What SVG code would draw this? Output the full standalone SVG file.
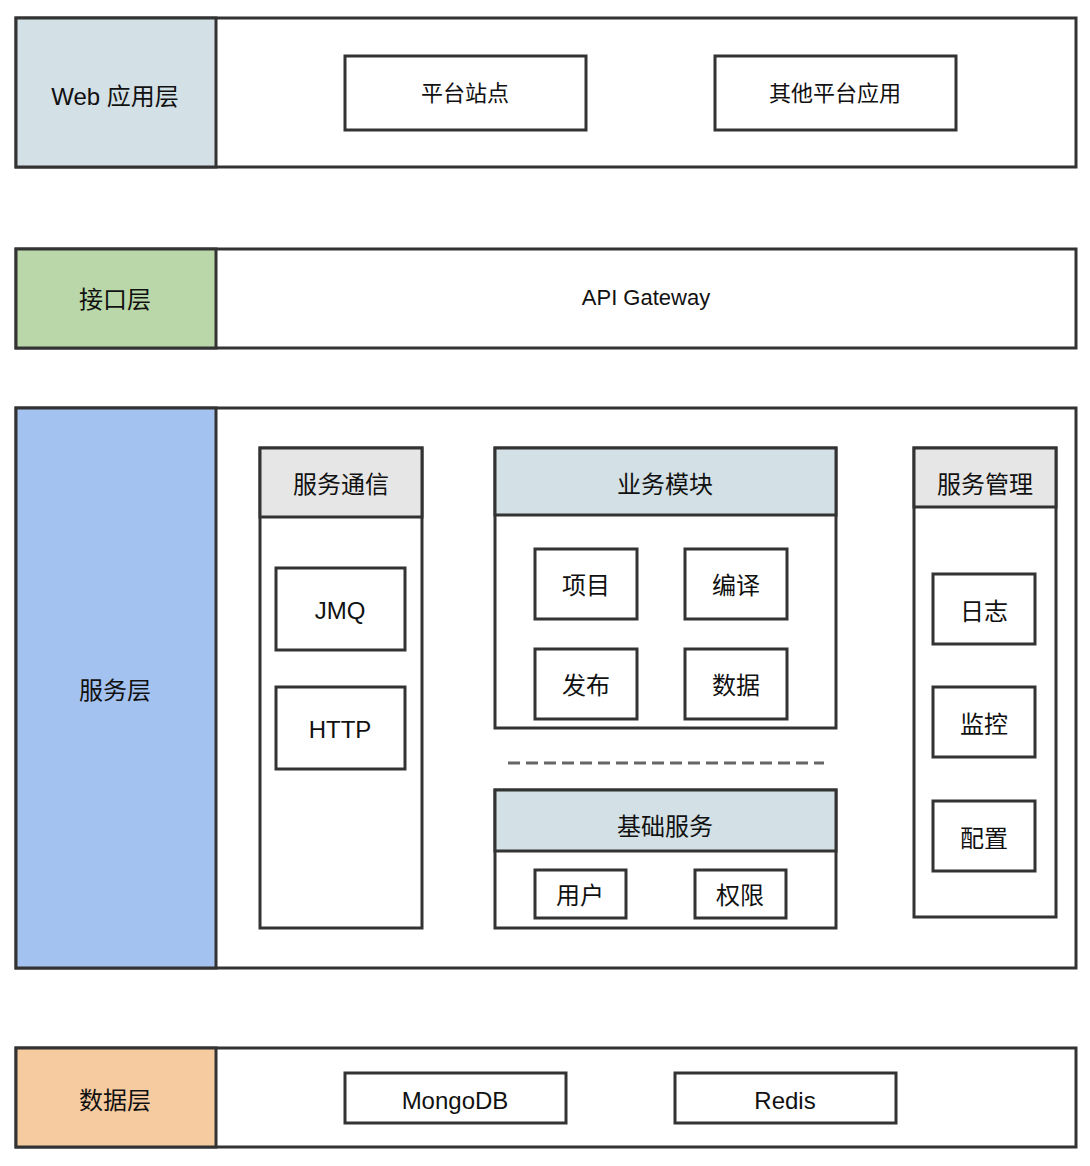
<svg xmlns="http://www.w3.org/2000/svg" width="1090" height="1166" viewBox="0 0 1090 1166">
<style>
rect{stroke:#333;stroke-width:3;fill:#fff}
text{font-family:"Liberation Sans","Noto Sans CJK SC",sans-serif;font-size:24px;fill:#111;text-anchor:middle;dominant-baseline:central}
.s{font-size:22px}
.bg{fill:#d3e0e5}.gr{fill:#e6e6e6}
</style>
<rect width="1090" height="1166" style="fill:#fff;stroke:none"/>
<g id="web">
<rect x="16" y="18" width="1060" height="149"/>
<rect x="16" y="18" width="200" height="149" class="bg"/>
<text x="115" y="96">Web 应用层</text>
<rect x="345" y="56" width="241" height="74"/><text class="s" x="465" y="93">平台站点</text>
<rect x="715" y="56" width="241" height="74"/><text class="s" x="835" y="93">其他平台应用</text>
</g>
<g id="api">
<rect x="16" y="249" width="1060" height="99"/>
<rect x="16" y="249" width="200" height="99" style="fill:#b9d7a8"/>
<text x="115" y="299">接口层</text>
<text class="s" x="646" y="297">API Gateway</text>
</g>
<g id="svc">
<rect x="16" y="408" width="1060" height="560"/>
<rect x="16" y="408" width="200" height="560" style="fill:#a4c2f0"/>
<text x="115" y="690">服务层</text>
</g>
<g id="comm">
<rect x="260" y="448" width="162" height="480"/>
<rect x="260" y="448" width="162" height="69" class="gr"/>
<text x="341" y="484">服务通信</text>
<rect x="276" y="568" width="129" height="82"/><text x="340" y="610">JMQ</text>
<rect x="276" y="687" width="129" height="82"/><text x="340" y="729">HTTP</text>
</g>
<g id="biz">
<rect x="495" y="448" width="341" height="280"/>
<rect x="495" y="448" width="341" height="67" class="bg"/>
<text x="665" y="484">业务模块</text>
<rect x="535" y="549" width="102" height="70"/><text x="586" y="585">项目</text>
<rect x="685" y="549" width="102" height="70"/><text x="736" y="585">编译</text>
<rect x="535" y="649" width="102" height="70"/><text x="586" y="685">发布</text>
<rect x="685" y="649" width="102" height="70"/><text x="736" y="685">数据</text>
</g>
<g id="connectors">
<line x1="508" y1="763" x2="824" y2="763" stroke="#666" stroke-width="3" stroke-dasharray="12,6"/>
</g>
<g id="base">
<rect x="495" y="790" width="341" height="138"/>
<rect x="495" y="790" width="341" height="61" class="bg"/>
<text x="665" y="826">基础服务</text>
<rect x="535" y="870" width="91" height="48"/><text x="580" y="895">用户</text>
<rect x="695" y="870" width="91" height="48"/><text x="740" y="895">权限</text>
</g>
<g id="mgmt">
<rect x="914" y="448" width="142" height="469"/>
<rect x="914" y="448" width="142" height="59" class="gr"/>
<text x="985" y="484">服务管理</text>
<rect x="933" y="574" width="102" height="70"/><text x="984" y="611">日志</text>
<rect x="933" y="687" width="102" height="70"/><text x="984" y="724">监控</text>
<rect x="933" y="801" width="102" height="70"/><text x="984" y="838">配置</text>
</g>
<g id="data">
<rect x="16" y="1048" width="1060" height="99"/>
<rect x="16" y="1048" width="200" height="99" style="fill:#f7cba0"/>
<text x="115" y="1100">数据层</text>
<rect x="345" y="1073" width="221" height="50"/><text x="455" y="1100">MongoDB</text>
<rect x="675" y="1073" width="221" height="50"/><text x="785" y="1100">Redis</text>
</g>
</svg>
